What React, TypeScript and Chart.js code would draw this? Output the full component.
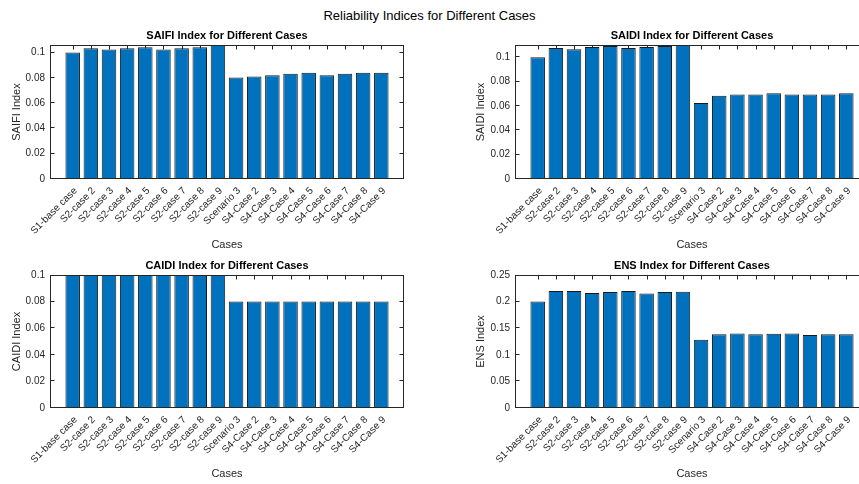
import React, { useEffect, useRef } from 'react';
import { Chart, registerables } from 'chart.js';

Chart.register(...registerables);

const categories = [
  'S1-base case', 'S2-case 2', 'S2-case 3', 'S2-case 4', 'S2-case 5', 'S2-case 6',
  'S2-case 7', 'S2-case 8', 'S2-case 9', 'Scenario 3', 'S4-Case 2', 'S4-Case 3',
  'S4-Case 4', 'S4-Case 5', 'S4-Case 6', 'S4-Case 7', 'S4-Case 8', 'S4-Case 9',
];

const saifiValues = [0.100, 0.1035, 0.1024, 0.1035, 0.1043, 0.1024, 0.1035, 0.1043, 0.107,
  0.0803, 0.0811, 0.0821, 0.0832, 0.084, 0.0821, 0.0832, 0.084, 0.084];
const saidiValues = [0.100, 0.1075, 0.1066, 0.1083, 0.1091, 0.1075, 0.1083, 0.1091, 0.111,
  0.0623, 0.0684, 0.0693, 0.0693, 0.0704, 0.0693, 0.0693, 0.0693, 0.0704];
const caidiValues = [0.1, 0.1, 0.1, 0.1, 0.1, 0.1, 0.1, 0.1, 0.1,
  0.08, 0.08, 0.08, 0.08, 0.08, 0.08, 0.08, 0.08, 0.08];
const ensValues = [0.200, 0.220, 0.220, 0.216, 0.218, 0.220, 0.215, 0.218, 0.2185,
  0.1285, 0.1385, 0.140, 0.1385, 0.1398, 0.140, 0.1373, 0.1385, 0.1385];

const ticks01 = [0, 0.02, 0.04, 0.06, 0.08, 0.1];
const ticks025 = [0, 0.05, 0.1, 0.15, 0.2, 0.25];

const FONT = "'Liberation Sans', Arial, Helvetica, sans-serif";
const TEXT = '#262626';

function frameCoords(chart: any) {
  const a = chart.chartArea;
  return { l: a.left + 0.5, r: a.right - 0.5, t: a.top + 0.5, b: a.bottom - 0.5 };
}

const framePlugin = {
  id: 'matlabFrame',
  beforeDatasetsDraw(chart: any) {
    const { ctx, scales } = chart;
    const x = scales.x;
    const y = scales.y;
    const { l, r, t, b } = frameCoords(chart);
    ctx.save();
    ctx.strokeStyle = TEXT;
    ctx.lineWidth = 1;
    ctx.beginPath();
    const len = 4;
    y.ticks.forEach((tk: any) => {
      let py = Math.round(y.getPixelForValue(tk.value)) - 0.5;
      py = Math.min(Math.max(py, t), b);
      ctx.moveTo(l, py); ctx.lineTo(l + len, py);
      ctx.moveTo(r, py); ctx.lineTo(r - len, py);
    });
    x.ticks.forEach((tk: any) => {
      const px = Math.round(x.getPixelForValue(tk.value)) + 0.5;
      ctx.moveTo(px, t); ctx.lineTo(px, t + len);
      ctx.moveTo(px, b); ctx.lineTo(px, b - len);
    });
    ctx.stroke();
    ctx.restore();
  },
  afterDatasetsDraw(chart: any) {
    const { ctx } = chart;
    const { l, r, t, b } = frameCoords(chart);
    ctx.save();
    ctx.strokeStyle = TEXT;
    ctx.lineWidth = 1;
    ctx.strokeRect(l, t, r - l, b - t);
    ctx.restore();
  },
};

const fmt = (v: number) => String(Number(v.toFixed(4)));

type Rect = { left: number; top: number; width: number; height: number };
type Area = { left: number; right: number; top: number; bottom: number };

function Panel(props: { rect: Rect; area: Area; ytitleX: number; title: string; ylabel: string; values: number[]; ymax: number; yticks: number[] }) {
  const ref = useRef<HTMLCanvasElement>(null);
  const { rect, area, ytitleX, title, ylabel, values, ymax, yticks } = props;
  useEffect(() => {
    const yw = area.left - rect.left;
    const padRight = rect.left + rect.width - area.right;
    const xh = rect.top + rect.height - area.bottom;
    const ytPad = ytitleX - rect.left - 7;
    const chart = new Chart(ref.current as HTMLCanvasElement, {
      type: 'bar',
      data: {
        datasets: [{
          data: values.map((v, i) => ({ x: i + 1, y: v })),
          backgroundColor: '#0072BD',
          borderColor: '#1a1a1a',
          borderWidth: 1,
          barPercentage: 0.8,
          categoryPercentage: 1,
        }],
      },
      options: {
        animation: false,
        responsive: false,
        maintainAspectRatio: false,
        layout: { padding: { left: 0, right: padRight, top: 0, bottom: 0 } },
        plugins: {
          legend: { display: false },
          tooltip: { enabled: false },
          title: {
            display: true,
            text: title,
            fullSize: false,
            color: '#000',
            font: { family: FONT, size: 11, weight: 'bold', lineHeight: '14px' },
            padding: { top: 0, bottom: 2 },
          },
        },
        scales: {
          x: {
            type: 'linear',
            offset: false,
            min: -0.25,
            max: 19.25,
            grid: { display: false, drawTicks: false, offset: false },
            border: { display: false },
            afterBuildTicks: (s: any) => { s.ticks = categories.map((_, i) => ({ value: i + 1 })); },
            ticks: {
              autoSkip: false,
              maxRotation: 45,
              minRotation: 45,
              padding: 6,
              labelOffset: 3,
              color: TEXT,
              font: { family: FONT, size: 10 },
              callback: (v: any) => categories[Math.round(v) - 1] ?? '',
            },
            title: { display: true, text: 'Cases', color: TEXT, font: { family: FONT, size: 11, lineHeight: '14px' }, padding: 0 },
            afterFit: (s: any) => { s.height = xh; s.paddingLeft = 0; s.paddingRight = 0; },
          },
          y: {
            min: 0,
            max: ymax,
            grid: { display: false, drawTicks: false },
            border: { display: false },
            afterBuildTicks: (s: any) => { s.ticks = yticks.map((v) => ({ value: v })); },
            ticks: { padding: 5, color: TEXT, font: { family: FONT, size: 10 }, callback: (v: any) => fmt(v) },
            title: { display: true, text: ylabel, color: TEXT, font: { family: FONT, size: 11, lineHeight: '14px' }, padding: { top: ytPad, bottom: 0 } },
            afterFit: (s: any) => { s.width = yw; s.paddingTop = 0; s.paddingBottom = 0; },
          },
        },
      } as any,
      plugins: [framePlugin],
    });
    return () => chart.destroy();
  }, []);
  return (
    <canvas
      ref={ref}
      width={rect.width}
      height={rect.height}
      style={{ position: 'absolute', left: rect.left, top: rect.top, width: rect.width, height: rect.height }}
    />
  );
}

export default function App() {
  return (
    <div style={{ position: 'fixed', left: 0, top: 0, width: 859, height: 484, overflow: 'hidden', background: '#fff' }}>
      <div style={{ position: 'absolute', left: 0, top: 8, width: 859, textAlign: 'center', fontFamily: FONT, fontSize: 13, lineHeight: '15px', color: '#000' }}>
        Reliability Indices for Different Cases
      </div>
      <Panel rect={{ left: 0, top: 29, width: 430, height: 223 }} area={{ left: 50, right: 404, top: 45, bottom: 179 }} ytitleX={17}
        title="SAIFI Index for Different Cases" ylabel="SAIFI Index" values={saifiValues} ymax={0.106} yticks={ticks01} />
      <Panel rect={{ left: 440, top: 29, width: 450, height: 223 }} area={{ left: 515, right: 869, top: 45, bottom: 179 }} ytitleX={481}
        title="SAIDI Index for Different Cases" ylabel="SAIDI Index" values={saidiValues} ymax={0.11} yticks={ticks01} />
      <Panel rect={{ left: 0, top: 259, width: 430, height: 222 }} area={{ left: 50, right: 404, top: 275, bottom: 408 }} ytitleX={17}
        title="CAIDI Index for Different Cases" ylabel="CAIDI Index" values={caidiValues} ymax={0.1} yticks={ticks01} />
      <Panel rect={{ left: 440, top: 259, width: 450, height: 222 }} area={{ left: 515, right: 869, top: 275, bottom: 408 }} ytitleX={481}
        title="ENS Index for Different Cases" ylabel="ENS Index" values={ensValues} ymax={0.25} yticks={ticks025} />
    </div>
  );
}
